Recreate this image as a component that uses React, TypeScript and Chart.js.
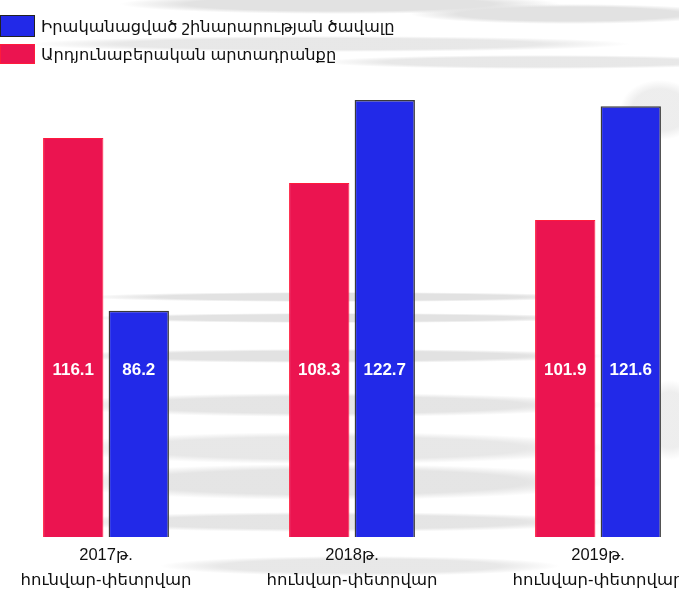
import React, { useEffect, useRef } from "react";
import { Chart, registerables } from "chart.js";

Chart.register(...registerables);

const categories: string[][] = [
  ["2017թ.", "հունվար-փետրվար"],
  ["2018թ.", "հունվար-փետրվար"],
  ["2019թ.", "հունվար-փետրվար"],
];
const seriesNames = ["Արդյունաբերական արտադրանքը", "Իրականացված շինարարության ծավալը"];
const industryValues = [116.1, 108.3, 101.9];
const constructionValues = [86.2, 122.7, 121.6];
const axisMin = 47;
const axisMax = 140;

const RED = "#EB1450";
const RED_BORDER = "#FF1A3C";
const BLUE = "#2229E8";
const BLUE_BORDER = "#3a3a3a";
const FONT = "'Liberation Sans', Arial, 'DejaVu Sans', sans-serif";

const valueLabelPlugin = {
  id: "valueLabels",
  afterDatasetsDraw(chart: any) {
    const { ctx, chartArea } = chart;
    ctx.save();
    ctx.fillStyle = "#ffffff";
    ctx.font = `bold 17px ${FONT}`;
    ctx.textAlign = "center";
    ctx.textBaseline = "middle";
    chart.data.datasets.forEach((ds: any, di: number) => {
      const meta = chart.getDatasetMeta(di);
      meta.data.forEach((bar: any, i: number) => {
        ctx.fillText(String(ds.data[i]), bar.x, chartArea.bottom - 167);
      });
    });
    ctx.restore();
  },
};

const streak = (rx: number, ry: number, cx: number, cy: number, a = 1) =>
  `radial-gradient(ellipse ${rx}px ${ry}px at ${cx}px ${cy}px, rgba(226,226,226,${a}) 0%, rgba(226,226,226,${a}) 70%, rgba(255,255,255,0) 100%)`;

const bgStyle: React.CSSProperties = {
  position: "absolute",
  inset: 0,
  background: [
    streak(220, 10, 340, 4),
    streak(160, 10, 570, 14),
    streak(300, 8, 330, 44, 0.8),
    streak(220, 7, 540, 62, 0.8),
    streak(40, 30, 660, 110, 0.6),
    streak(260, 5, 340, 297),
    streak(260, 5, 340, 318),
    streak(280, 7, 330, 356),
    streak(280, 12, 330, 405, 0.9),
    streak(280, 16, 330, 448, 0.8),
    streak(280, 18, 330, 482, 0.9),
    streak(280, 10, 330, 522, 0.9),
    streak(200, 10, 360, 566, 0.8),
    streak(30, 40, 670, 420, 0.6),
    "#ffffff",
  ].join(","),
};

export default function App() {
  const canvasRef = useRef<HTMLCanvasElement | null>(null);

  useEffect(() => {
    document.body.style.margin = "0";
    document.body.style.overflow = "hidden";
    if (!canvasRef.current) return;
    const chart = new Chart(canvasRef.current, {
      type: "bar",
      data: {
        labels: categories,
        datasets: [
          {
            label: seriesNames[0],
            data: industryValues,
            backgroundColor: RED,
            borderColor: RED_BORDER,
            borderWidth: 1,
            categoryPercentage: 0.533,
            barPercentage: 0.92,
          },
          {
            label: seriesNames[1],
            data: constructionValues,
            backgroundColor: BLUE,
            borderColor: BLUE_BORDER,
            borderWidth: 1.5,
            categoryPercentage: 0.533,
            barPercentage: 0.92,
          },
        ],
      },
      options: {
        animation: false,
        responsive: false,
        maintainAspectRatio: false,
        layout: { padding: 0 },
        plugins: {
          legend: { display: false },
          tooltip: { enabled: false },
          title: { display: false },
        },
        scales: {
          x: {
            grid: { display: false },
            border: { display: false },
            ticks: {
              color: "#111111",
              font: { family: FONT, size: 16.5, lineHeight: 1.5 },
              padding: -2,
              maxRotation: 0,
              autoSkip: false,
            },
            afterFit: (scale: any) => {
              scale.height = 52;
            },
          },
          y: {
            display: false,
            min: axisMin,
            max: axisMax,
          },
        },
      },
      plugins: [valueLabelPlugin],
    });
    return () => chart.destroy();
  }, []);

  const legendItems = [
    { name: seriesNames[1], color: BLUE, border: "#222" },
    { name: seriesNames[0], color: RED, border: RED_BORDER },
  ];

  return (
    <div style={{ position: "relative", width: 679, height: 589, overflow: "hidden" }}>
      <div style={bgStyle} />
      <canvas
        ref={canvasRef}
        width={738}
        height={589}
        style={{ position: "absolute", left: -17, top: 0, width: 738, height: 589 }}
      />
      <div style={{ position: "absolute", left: 0, top: 14, fontFamily: FONT, fontSize: 16.3, color: "#111" }}>
        {legendItems.map((it, i) => (
          <div key={i} style={{ display: "flex", alignItems: "center", height: 24, marginBottom: 4 }}>
            <span
              style={{
                display: "inline-block",
                width: 35,
                height: i === 0 ? 22 : 20,
                background: it.color,
                border: `1px solid ${it.border}`,
                boxSizing: "border-box",
                marginRight: 6,
              }}
            />
            <span>{it.name}</span>
          </div>
        ))}
      </div>
    </div>
  );
}
